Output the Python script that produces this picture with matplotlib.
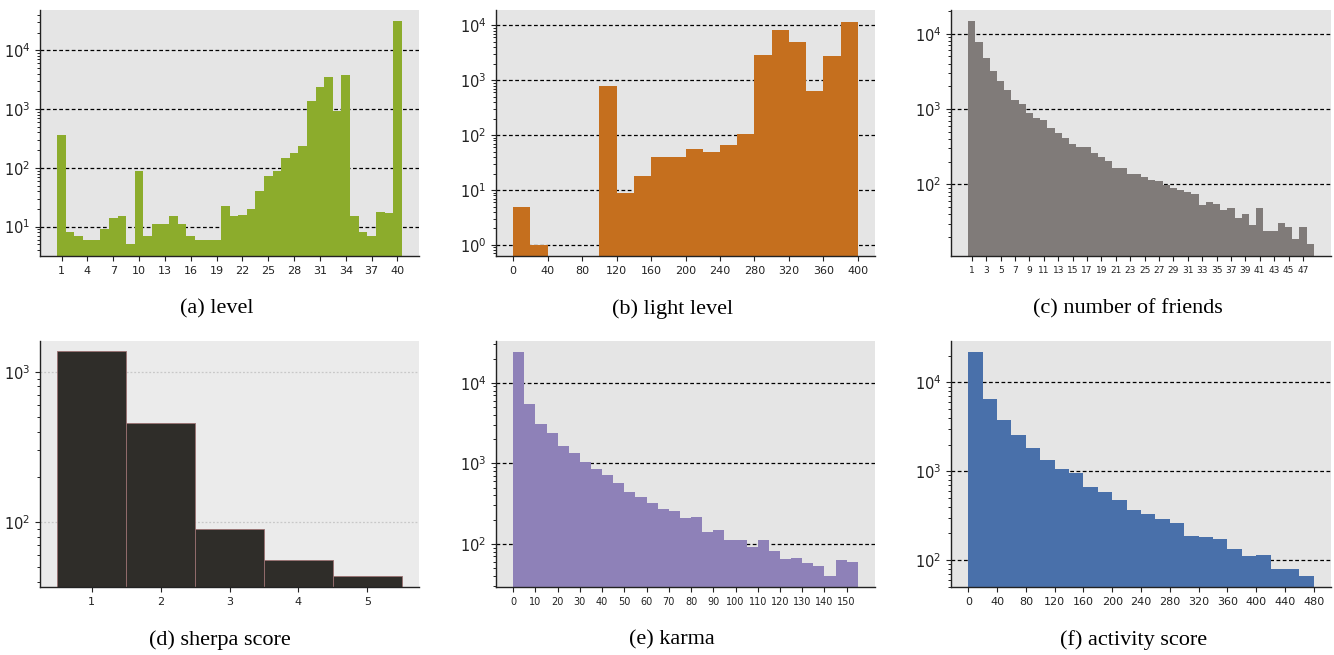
import numpy as np
import matplotlib
matplotlib.use('Agg')
import matplotlib.pyplot as plt

# (a) level
level = list(range(1, 41))
level_cnt = [365, 8.1, 6.9, 5.9, 5.9, 9.1, 14, 15, 5.1, 89,
             7, 11, 11, 15, 11, 7, 6, 6, 6, 22.5,
             15, 15.8, 20, 40.5, 73, 89, 148, 180, 231, 1387,
             2400, 3550, 935, 3845, 15, 8, 7, 17.8, 17, 32000]

# (b) light level, bins of 20 (40-100 empty)
light_bin = [0, 20, 100, 120, 140, 160, 180, 200, 220, 240, 260, 280, 300, 320, 340, 360, 380]
light_cnt = [5, 1, 777, 9, 18, 40, 40, 56, 49, 66, 104, 2850, 8110, 4910, 631, 2730, 11340]

# (c) number of friends
friends = list(range(1, 49))
friends_cnt = [14700, 7740, 4750, 3195, 2353, 1787, 1316, 1164, 885, 760,
               715, 560, 480, 412, 343, 313, 313, 261, 231, 204,
               165, 165, 137, 137, 125, 114, 111, 98, 89, 84,
               79, 74, 53, 58, 55, 45.7, 48.6, 35.7, 40.4, 28.8,
               48.6, 24, 24, 30.7, 27.2, 18.8, 27.2, 16.1]

# (d) sherpa score
sherpa = [1, 2, 3, 4, 5]
sherpa_cnt = [1372, 456, 90, 56, 44]

# (e) karma, bins of 5
karma_bin = list(range(0, 155, 5))
karma_cnt = [24100, 5420, 3055, 2360, 1628, 1331, 1029, 841, 709, 564,
             436, 378, 318, 275, 253, 207, 213, 142, 147, 113,
             113, 92.6, 113, 82.6, 65.7, 67.6, 58.6, 53.8, 40.4, 63.8, 60.2]

# (f) activity score, bins of 20
act_bin = list(range(0, 480, 20))
act_cnt = [22000, 6490, 3764, 2550, 1820, 1331, 1054, 949, 659, 579,
           482, 372, 335, 294, 265, 188, 184, 174, 134, 112,
           115, 79.8, 79.8, 66.5]

W, H = 1334, 655
fig = plt.figure(figsize=(W/100, H/100), dpi=100)

def make_ax(l, t, w, h):
    return fig.add_axes([l/W, 1 - (t + h)/H, w/W, h/H])

def style(ax, bg='#e5e5e5', gcol='k', gls=(0, (3, 2)), xsize=8):
    ax.set_facecolor(bg)
    ax.set_yscale('log')
    ax.set_axisbelow(True)
    ax.yaxis.grid(True, which='major', color=gcol, linestyle=gls, lw=0.9)
    for s in ['top', 'right']:
        ax.spines[s].set_visible(False)
    for s in ['left', 'bottom']:
        ax.spines[s].set_color('#222222')
        ax.spines[s].set_linewidth(1.0)
    ax.tick_params(axis='y', labelsize=10.5, colors='#222222')
    ax.tick_params(axis='x', labelsize=xsize, colors='#222222')

# (a)
ax = make_ax(40, 10, 379, 246)
ax.bar(level, level_cnt, width=1, color='#8cac2c')
style(ax)
ax.set_xticks(level[::3])
ax.set_ylim(3.16, 48600)

# (b)
ax = make_ax(496, 10, 379, 246)
ax.bar(light_bin, light_cnt, width=20, align='edge', color='#c56f1e')
style(ax)
ax.set_xlim(-20, 420)
ax.set_xticks(range(0, 401, 40))
ax.set_ylim(0.63, 19000)

# (c)
ax = make_ax(951, 10, 380, 246)
ax.bar(friends, friends_cnt, width=1, color='#807b79')
style(ax, xsize=6.5)
ax.set_xticks(friends[:47:2])
ax.set_ylim(11.2, 20600)

# (d)
ax = make_ax(40, 341, 379, 246)
ax.bar(sherpa, sherpa_cnt, width=1, color='#2f2d29', edgecolor='#9a7070', lw=0.6)
style(ax, bg='#ebebeb', gcol='#c8c8c8', gls=(0, (1.5, 1.5)), xsize=8)
ax.set_xticks(sherpa)
ax.set_ylim(37, 1607)

# (e)
ax = make_ax(496, 341, 379, 246)
ax.bar(karma_bin, karma_cnt, width=5, align='edge', color='#8e81b8')
style(ax, xsize=7)
ax.set_xlim(-7.75, 162.75)
ax.set_xticks(range(0, 151, 10))
ax.set_ylim(29.2, 33000)

# (f)
ax = make_ax(951, 341, 380, 246)
ax.bar(act_bin, act_cnt, width=20, align='edge', color='#4970aa')
style(ax)
ax.set_xlim(-24, 504)
ax.set_xticks(range(0, 481, 40))
ax.set_ylim(50, 29300)

captions = ['(a) level', '(b) light level', '(c) number of friends',
            '(d) sherpa score', '(e) karma', '(f) activity score']
cx = [217, 673, 1128, 220, 672, 1134]
cy = [309, 309, 309, 640, 640, 640]
for c, x, y in zip(captions, cx, cy):
    fig.text(x/W, 1 - y/H, c, ha='center', va='center',
             family='Liberation Serif', fontsize=16)

fig.savefig('out.png', dpi=100)
